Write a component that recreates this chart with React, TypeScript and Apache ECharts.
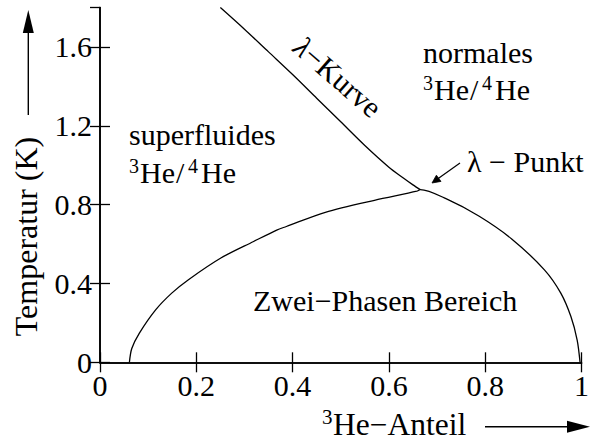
import React, { useEffect, useRef } from "react";
import * as echarts from "echarts";

// λ-curve (x = ³He fraction, y = temperature in K)
const lambdaX = [0.25, 0.3, 0.35, 0.4, 0.45, 0.5, 0.55, 0.6, 0.63, 0.65, 0.665];
const lambdaY = [1.8, 1.69, 1.575, 1.46, 1.34, 1.22, 1.1, 0.99, 0.935, 0.9, 0.876];

// phase-separation boundary (left branch, λ-point, right branch)
const sepX = [0.0611, 0.066, 0.0815, 0.1155, 0.149, 0.183, 0.251, 0.319, 0.367, 0.387, 0.468, 0.57, 0.658, 0.665, 0.7196, 0.7876, 0.855, 0.923, 0.957, 0.978, 0.991, 0.997];
const sepY = [0, 0.07, 0.147, 0.266, 0.351, 0.418, 0.529, 0.613, 0.671, 0.689, 0.761, 0.822, 0.868, 0.876, 0.829, 0.741, 0.626, 0.469, 0.351, 0.232, 0.113, 0];

const xTicks = [0, 0.2, 0.4, 0.6, 0.8, 1];
const yTicks = [0, 0.4, 0.8, 1.2, 1.6];

const FONT = "Liberation Serif";

function txt(x: number, baseline: number, text: string, size: number, extra: any = {}) {
  return {
    type: "text",
    x,
    y: baseline - size * 0.3375,
    silent: true,
    style: {
      text,
      fontFamily: FONT,
      fontSize: size,
      fill: "#000",
      align: "left",
      verticalAlign: "middle",
      ...extra,
    },
  };
}

function heHe(x: number, baseline: number) {
  return [
    txt(x, baseline - 10, "3", 20),
    txt(x + 11, baseline, "He", 30),
    txt(x + 47, baseline, "/", 30),
    txt(x + 59, baseline - 10, "4", 20),
    txt(x + 72, baseline, "He", 30),
  ];
}

export default function App() {
  const ref = useRef<HTMLDivElement>(null);
  useEffect(() => {
    if (!ref.current) return;
    const chart = echarts.init(ref.current, undefined, { renderer: "svg" });
    const axisLine = { show: true, lineStyle: { color: "#000", width: 1.6 } };
    const tick = { show: true, inside: true, length: 10, lineStyle: { color: "#000", width: 1.3 } };
    const label = { color: "#000", fontFamily: FONT, fontSize: 30, margin: 8 };
    const xMin = xTicks[0];
    const xMax = xTicks[xTicks.length - 1];
    const xInt = xTicks[1] - xTicks[0];
    const yInt = yTicks[1] - yTicks[0];
    chart.setOption({
      animation: false,
      backgroundColor: "#fff",
      textStyle: { fontFamily: FONT },
      grid: { left: 100, right: 2, top: 7.5, bottom: 78.7, containLabel: false },
      xAxis: [
        { type: "value", position: "bottom", min: xMin, max: xMax, interval: xInt, axisLine, axisTick: tick, axisLabel: { ...label, alignMaxLabel: "center" }, splitLine: { show: false } },
        { type: "value", position: "top", min: xMin, max: xMax, interval: xInt, axisLine, axisTick: tick, axisLabel: { show: false }, splitLine: { show: false } },
      ],
      yAxis: [
        { type: "value", position: "left", min: 0, max: 1.8, interval: yInt, axisLine, axisTick: tick, axisLabel: { ...label, showMaxLabel: false }, splitLine: { show: false } },
        { type: "value", position: "right", min: 0, max: 1.8, interval: yInt, axisLine, axisTick: tick, axisLabel: { show: false }, splitLine: { show: false } },
      ],
      series: [
        {
          type: "line",
          data: lambdaX.map((x, i) => [x, lambdaY[i]]),
          symbol: "none",
          smooth: 0.3,
          lineStyle: { color: "#000", width: 1.3 },
          silent: true,
        },
        {
          type: "line",
          data: sepX.map((x, i) => [x, sepY[i]]),
          symbol: "none",
          smooth: 0.3,
          lineStyle: { color: "#000", width: 1.3 },
          silent: true,
        },
      ],
      graphic: [
        txt(129, 145, "superfluides", 30),
        ...heHe(129, 183),
        txt(423, 63, "normales", 30),
        ...heHe(423, 100),
        txt(253, 311, "Zwei\u2212Phasen Bereich", 30),
        txt(467, 172, "\u03bb \u2212 Punkt", 30),
        {
          type: "text",
          x: 338,
          y: 77,
          rotation: (-41 * Math.PI) / 180,
          silent: true,
          style: {
            text: "{i|\u03bb}\u2212Kurve",
            fontFamily: FONT,
            fontSize: 30,
            fill: "#000",
            align: "center",
            verticalAlign: "middle",
            rich: { i: { fontFamily: FONT, fontSize: 30, fontStyle: "italic", fill: "#000" } },
          },
        },
        { type: "line", shape: { x1: 460, y1: 163, x2: 434, y2: 181.5 }, style: { stroke: "#000", lineWidth: 1.2 } },
        { type: "polygon", shape: { points: [[432, 183], [441, 181.4], [436.4, 175.2]] }, style: { fill: "#000", stroke: "#000", lineWidth: 0.8 } },
        {
          type: "text",
          x: 26,
          y: 236.5,
          rotation: Math.PI / 2,
          silent: true,
          style: { text: "Temperatur (K)", fontFamily: FONT, fontSize: 32, fill: "#000", align: "center", verticalAlign: "middle" },
        },
        { type: "line", shape: { x1: 28.3, y1: 115, x2: 28.3, y2: 30 }, style: { stroke: "#000", lineWidth: 1.4 } },
        { type: "polygon", shape: { points: [[28.3, 10], [22.8, 33], [33.8, 33]] }, style: { fill: "#000" } },
        txt(322, 424.5, "3", 21),
        txt(333, 435.5, "He\u2212Anteil", 31.5),
        { type: "line", shape: { x1: 485, y1: 426.7, x2: 570, y2: 426.7 }, style: { stroke: "#000", lineWidth: 1.4 } },
        { type: "polygon", shape: { points: [[590, 426.7], [567, 420.7], [567, 432.7]] }, style: { fill: "#000" } },
      ],
    });
    return () => chart.dispose();
  }, []);
  return <div ref={ref} style={{ position: "fixed", left: 0, top: 0, width: 592, height: 441, background: "#fff" }} />;
}
